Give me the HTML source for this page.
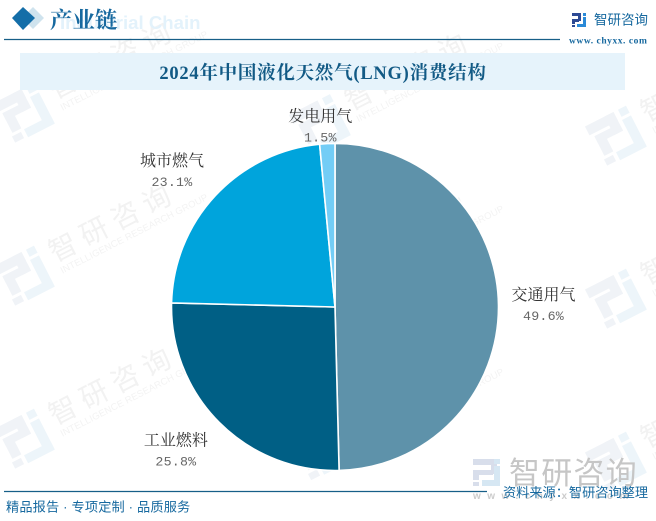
<!DOCTYPE html>
<html lang="zh-CN">
<head>
<meta charset="utf-8">
<title>2024年中国液化天然气(LNG)消费结构</title>
<style>
html,body{margin:0;padding:0;background:#fff;width:656px;height:521px;overflow:hidden;}
#stage{position:relative;width:656px;height:521px;overflow:hidden;background:#fff;}
svg{position:absolute;left:0;top:0;overflow:hidden;display:block;}
</style>
</head>
<body>
<div id="stage">
<svg id="chart" width="656" height="521" viewBox="0 0 656 521" xmlns="http://www.w3.org/2000/svg">
  <defs><clipPath id="frame"><rect x="0" y="0" width="656" height="521"/></clipPath></defs>
  <g id="watermarks" clip-path="url(#frame)"></g>

  <g>
    <polygon points="33,7 44,18 33,29 22,18" fill="#cfe3ee"/>
    <polygon points="23,7 35,18 23,30 12,18" fill="#146ea8"/>
    <text x="60" y="29" font-family="'Liberation Sans',sans-serif" font-weight="700" font-size="18.6" fill="#e3f2fb">Industrial Chain</text>
    <text x="50" y="28" font-family="'Liberation Serif','Noto Serif CJK SC',serif" font-weight="700" font-size="22.5" fill="#17699f">产业链</text>
    <line x1="4" y1="39.5" x2="560" y2="39.5" stroke="#175f88" stroke-width="1.2"/>
    <g>
      <rect x="572" y="13" width="9" height="3" fill="#2d4a94"/>
      <rect x="578" y="13" width="3" height="8" fill="#2d4a94"/>
      <rect x="572" y="19" width="7" height="3" fill="#2d4a94"/>
      <rect x="572" y="19" width="3" height="5" fill="#2d4a94"/>
      <rect x="572" y="25" width="3" height="2" fill="#2d4a94"/>
      <rect x="583" y="13" width="3" height="3" fill="#2a8ad8"/>
      <rect x="583" y="17" width="3" height="10" fill="#2a8ad8"/>
      <rect x="577" y="24" width="9" height="3" fill="#2a8ad8"/>
    </g>
    <text x="594" y="24.5" font-family="'Liberation Sans','WenQuanYi Zen Hei',sans-serif" font-size="13.5" fill="#17699f">智研咨询</text>
    <text x="569" y="43.5" font-family="'Liberation Serif',serif" font-weight="700" font-size="9.5" letter-spacing="0.55" fill="#17699f">www. chyxx. com</text>
  </g>

  <rect x="20" y="53" width="605" height="37" fill="#e6f3fb"/>
  <text x="323" y="79" text-anchor="middle" font-family="'Liberation Serif','Noto Serif CJK SC',serif" font-weight="700" font-size="18.5" letter-spacing="0.75" fill="#125a85">2024年中国液化天然气(LNG)消费结构</text>

  <g id="pie"></g>
  <g id="labels"></g>

  <g>
    <g opacity="0.85">
      <rect x="473" y="459" width="24" height="6" fill="#d2d9e8"/>
      <rect x="491" y="459" width="6" height="15" fill="#d2d9e8"/>
      <rect x="473" y="470" width="20" height="5" fill="#d2d9e8"/>
      <rect x="473" y="470" width="6" height="10" fill="#d2d9e8"/>
      <rect x="473" y="482" width="6" height="4" fill="#d2d9e8"/>
      <rect x="494" y="459" width="6" height="5" fill="#cfe3f2"/>
      <rect x="494" y="466" width="6" height="20" fill="#cfe3f2"/>
      <rect x="482" y="480" width="18" height="6" fill="#cfe3f2"/>
    </g>
    <text x="509" y="484" font-family="'Liberation Sans','WenQuanYi Zen Hei',sans-serif" font-size="31" letter-spacing="1.2" fill="#c6c6c6">智研咨询</text>
    <text x="473" y="499" font-family="'Liberation Sans',sans-serif" font-weight="700" font-size="10" letter-spacing="6.5" fill="#cccccc">www.chyxx.com</text>
    <line x1="4" y1="491.5" x2="487" y2="491.5" stroke="#175f88" stroke-width="1.2"/>
    <text x="503" y="497" font-family="'Liberation Sans','WenQuanYi Zen Hei',sans-serif" font-size="13.2" fill="#17699f">资料来源：智研咨询整理</text>
    <text x="6" y="511.5" font-family="'Liberation Sans','WenQuanYi Zen Hei',sans-serif" font-size="13.2" letter-spacing="0.15" fill="#17699f">精品报告 · 专项定制 · 品质服务</text>
  </g>
</svg>
</div>

<script>
const categories = ['交通用气', '工业燃料', '城市燃气', '发电用气'];
const seriesValues = [49.6, 25.8, 23.1, 1.5];
const valueLabels = ['49.6%', '25.8%', '23.1%', '1.5%'];
const sliceColors = ['#5e92aa', '#005f85', '#00a4dc', '#73cdf6'];

const NS = 'http://www.w3.org/2000/svg';
const CX = 335, CY = 307, R = 163.5;

function angleScale(v, total) { return v / total * Math.PI * 2; }
function polar(a, r) { return [CX + Math.sin(a) * r, CY - Math.cos(a) * r]; }
function make(tag, attrs, parent) {
  const el = document.createElementNS(NS, tag);
  for (const k in attrs) el.setAttribute(k, attrs[k]);
  parent.appendChild(el);
  return el;
}

const pieGroup = document.getElementById('pie');
const labelGroup = document.getElementById('labels');
const total = seriesValues.reduce((a, b) => a + b, 0);
let acc = 0;
seriesValues.forEach((v, i) => {
  const a0 = angleScale(acc, total);
  const a1 = angleScale(acc + v, total);
  const p0 = polar(a0, R), p1 = polar(a1, R);
  const large = a1 - a0 > Math.PI ? 1 : 0;
  const slice = make('path', {
    d: `M${CX},${CY} L${p0[0]},${p0[1]} A${R},${R} 0 ${large} 1 ${p1[0]},${p1[1]} Z`,
    fill: sliceColors[i], stroke: '#ffffff', 'stroke-width': 1.6, 'stroke-linejoin': 'round'
  }, pieGroup);
  
  

  const mid = (a0 + a1) / 2;
  const s = Math.sin(mid), c = Math.cos(mid);
  const padX = Math.sign(s) * Math.min(1, Math.abs(s) * 4) * 45;
  const padY = Math.sign(-c) * Math.min(1, Math.abs(c) * 2) * (18 + 14 * s * s);
  const lx = CX + s * R + padX + (s < 0 ? 1.5 : 0);
  const ly = CY - c * R + padY + (c < -0.2 ? 3 : 1);

  const nameText = make('text', {
    x: lx, y: ly - 5, 'text-anchor': 'middle',
    'font-family': "'Liberation Serif','Noto Serif CJK SC',serif",
    'font-size': 16, fill: '#333333'
  }, labelGroup);
  nameText.textContent = categories[i];
  
  

  const valueText = make('text', {
    x: lx, y: ly + 15, 'text-anchor': 'middle',
    'font-family': "'Liberation Mono',monospace",
    'font-size': 13.3, 'letter-spacing': 0.2, fill: '#666666'
  }, labelGroup);
  valueText.textContent = valueLabels[i];
  
  

  acc += v;
});

const wmLayer = document.getElementById('watermarks');
for (let col = 0; col < 3; col++) {
  for (let row = 0; row < 3; row++) {
    const ox = 23 + col * 296;
    const oy = 114 + row * 163 + col * 11.5;
    const g = make('g', { transform: `translate(${ox},${oy}) rotate(-27)` }, wmLayer);
    
    
    const dark = '#f0f3f7', light = '#edf5fa';
    [[-22,-23,32,10],[0,-23,10,21],[-18,-10,28,8],[-18,-10,10,22],[-20,15,10,7]].forEach(b => {
      make('rect', { x: b[0], y: b[1], width: b[2], height: b[3], fill: dark }, g);
    });
    [[15,-23,9,8],[14,-12,10,34],[-6,14,30,9]].forEach(b => {
      make('rect', { x: b[0], y: b[1], width: b[2], height: b[3], fill: light }, g);
    });
    const wmName = make('text', {
      x: 35, y: 1.5, 'font-family': "'Liberation Sans','WenQuanYi Zen Hei',sans-serif",
      'font-size': 28, 'letter-spacing': 7, fill: '#f2f2f2'
    }, g);
    wmName.textContent = '智研咨询';
    
    
    const wmSub = make('text', {
      x: 36.5, y: 15, 'font-family': "'Liberation Sans',sans-serif",
      'font-size': 9.5, 'letter-spacing': 0.1, fill: '#f3f3f3'
    }, g);
    wmSub.textContent = 'INTELLIGENCE RESEARCH GROUP';
    
    
  }
}
</script>
</body>
</html>
